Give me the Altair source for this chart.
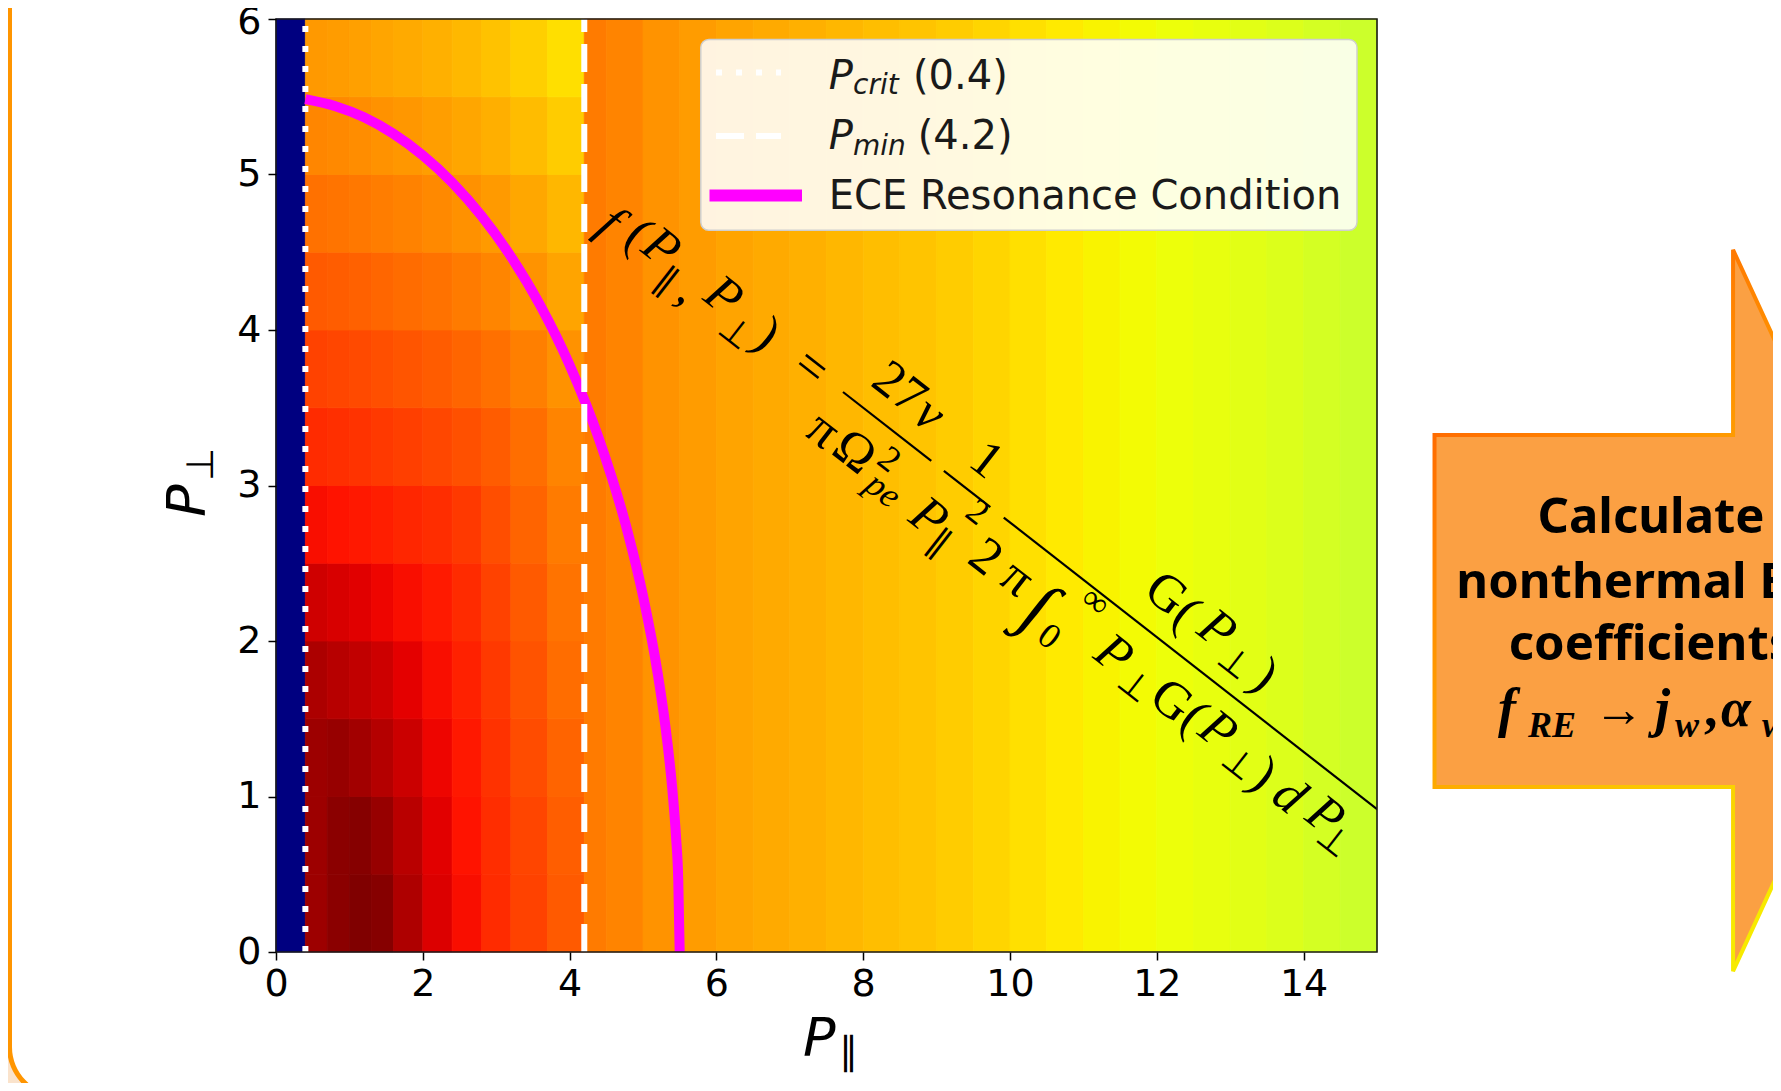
import altair as alt
import numpy as np
import pandas as pd

# ---------------- data ----------------
P_CRIT = 0.4
P_MIN = 4.2
X_TICKS = [0, 2, 4, 6, 8, 10, 12, 14]
Y_TICKS = [0, 1, 2, 3, 4, 5, 6]

# value below P_crit (masked, colormap minimum)
F_BELOW_CRIT = 0.0

# region P_crit < P_par < P_min : cells (columns x rows)
X_EDGES_LEFT = [0.4, 0.7, 1.0, 1.3, 1.6, 2.0, 2.4, 2.8, 3.2, 3.7, 4.2]
Y_EDGES = [0.0, 0.5, 1.0, 1.5, 2.0, 2.5, 3.0, 3.5, 4.0, 4.5, 5.0, 5.5, 6.0]
F_LEFT = [
    [0.975, 0.990, 1.000, 0.995, 0.960, 0.920, 0.895, 0.865, 0.840, 0.815],
    [0.975, 0.990, 0.995, 0.980, 0.950, 0.915, 0.890, 0.862, 0.837, 0.810],
    [0.975, 0.980, 0.970, 0.955, 0.935, 0.905, 0.885, 0.857, 0.830, 0.804],
    [0.962, 0.952, 0.943, 0.933, 0.913, 0.895, 0.875, 0.850, 0.822, 0.795],
    [0.932, 0.924, 0.916, 0.905, 0.895, 0.882, 0.864, 0.840, 0.814, 0.788],
    [0.895, 0.890, 0.885, 0.878, 0.870, 0.862, 0.850, 0.828, 0.804, 0.780],
    [0.865, 0.860, 0.856, 0.850, 0.843, 0.835, 0.826, 0.812, 0.793, 0.770],
    [0.840, 0.836, 0.832, 0.827, 0.820, 0.812, 0.803, 0.791, 0.776, 0.756],
    [0.815, 0.811, 0.807, 0.802, 0.796, 0.789, 0.780, 0.769, 0.755, 0.737],
    [0.790, 0.787, 0.783, 0.778, 0.772, 0.765, 0.757, 0.747, 0.733, 0.716],
    [0.768, 0.765, 0.761, 0.756, 0.750, 0.743, 0.735, 0.725, 0.711, 0.694],
    [0.748, 0.745, 0.741, 0.736, 0.730, 0.723, 0.715, 0.705, 0.691, 0.674],
]

# region P_par > P_min : varies with P_par only
X_EDGES_RIGHT = [4.2, 4.5, 5.0, 5.5, 6.0, 6.5, 7.0, 7.5, 8.0, 8.5, 9.0, 9.5,
                 10.0, 10.5, 11.0, 11.5, 12.0, 12.5, 13.0, 13.5, 14.0, 14.5, 15.0]
F_RIGHT = [0.780, 0.770, 0.755, 0.745, 0.737, 0.730, 0.723, 0.716, 0.709, 0.702,
           0.694, 0.684, 0.673, 0.662, 0.653, 0.645, 0.638, 0.632, 0.625, 0.617,
           0.608, 0.598]

# ECE resonance condition curve
RES_PPAR = [0.4, 0.8, 1.2, 1.6, 2.0, 2.4, 2.8, 3.2, 3.6, 4.0, 4.4, 4.8, 5.0,
            5.2, 5.3, 5.4, 5.45, 5.48, 5.5]
RES_PPERP = [5.485, 5.441, 5.368, 5.262, 5.123, 4.949, 4.734, 4.473, 4.158,
             3.775, 3.300, 2.685, 2.291, 1.792, 1.470, 1.044, 0.740, 0.469, 0.0]

LEGEND_CRIT = "(0.4)"
LEGEND_MIN = "(4.2)"
LEGEND_ECE = "ECE Resonance Condition"
ARROW_LINES = ["Calculate", "nonthermal ECE", "coefficients"]

# ---------------- layout / style ----------------
W, H = 1101, 933
XPU = W / 15.0
YPU = H / 6.0
XS = alt.Scale(domain=[0, 15], nice=False, zero=False)
YS = alt.Scale(domain=[0, 6], nice=False, zero=False)
XAX = alt.Axis(values=X_TICKS, format="d", title=None, labelFlush=False,
               labelOverlap=False, labelPadding=5, zindex=2)
YAX = alt.Axis(values=Y_TICKS, format="d", title=None, labelFlush=False,
               labelOverlap=False, labelPadding=7, zindex=2,
               labelOffset={"condition": {"test": "datum.value == 6", "value": 3},
                            "value": 0})


def jet_hex(v):
    r = np.interp(v, [0, 0.35, 0.66, 0.89, 1], [0, 0, 1, 1, 0.5])
    g = np.interp(v, [0, 0.125, 0.375, 0.64, 0.91, 1], [0, 0, 1, 1, 0, 0])
    b = np.interp(v, [0, 0.11, 0.34, 0.65, 1], [0.5, 1, 1, 0, 0])
    return "#%02x%02x%02x" % (int(round(r * 255)), int(round(g * 255)), int(round(b * 255)))


JET_DOMAIN = [float(v) for v in np.linspace(0, 1, 101)]
JET_RANGE = [jet_hex(v) for v in JET_DOMAIN]
CS = alt.Scale(domain=JET_DOMAIN, range=JET_RANGE, interpolate="rgb")


def one():
    return pd.DataFrame({"k": [0]})


def ptext(txt, x, y, **kw):
    return alt.Chart(one()).mark_text(text=txt, **kw).encode(
        x=alt.value(x), y=alt.value(y))


def prect(x, x2, y, y2, **kw):
    return alt.Chart(one()).mark_rect(**kw).encode(
        x=alt.value(x), x2=alt.value(x2), y=alt.value(y), y2=alt.value(y2))


def prule(x, x2, y, y2, **kw):
    return alt.Chart(one()).mark_rule(**kw).encode(
        x=alt.value(x), x2=alt.value(x2), y=alt.value(y), y2=alt.value(y2))


def xq(field):
    return alt.X(field, type="quantitative", scale=XS, axis=XAX)


def yq(field):
    return alt.Y(field, type="quantitative", scale=YS, axis=YAX)


layers = []

# slide background: orange rounded border on the left, peach outside the corner
BORDER = "#ff9500"
CX, CY, R = -216.5, 1028, 50
layers.append(prect(-270, CX - 22, CY, 1080, fill="#fae3cc"))
layers.append(alt.Chart(one()).mark_arc(theta=np.pi, theta2=1.5 * np.pi, radius=R,
                                        fill="white").encode(
    x=alt.value(CX), y=alt.value(CY)))
layers.append(alt.Chart(one()).mark_arc(theta=np.pi, theta2=1.5 * np.pi, radius=R + 2.5,
                                        radius2=R - 2.5, fill=BORDER).encode(
    x=alt.value(CX), y=alt.value(CY)))
layers.append(prule(CX - R, CX - R, -30, CY, color=BORDER, strokeWidth=5))

# ---------------- heatmap ----------------
cells = [dict(x0=0.0, x1=P_CRIT, y0=0.0, y1=6.0, v=F_BELOW_CRIT)]
for j in range(len(Y_EDGES) - 1):
    for i in range(len(X_EDGES_LEFT) - 1):
        cells.append(dict(x0=X_EDGES_LEFT[i], x1=X_EDGES_LEFT[i + 1],
                          y0=Y_EDGES[j], y1=Y_EDGES[j + 1], v=F_LEFT[j][i]))
for i in range(len(X_EDGES_RIGHT) - 1):
    cells.append(dict(x0=X_EDGES_RIGHT[i], x1=X_EDGES_RIGHT[i + 1],
                      y0=0.0, y1=6.0, v=F_RIGHT[i]))
cells_df = pd.DataFrame(cells)

heat = alt.Chart(cells_df).mark_rect(strokeWidth=0.8).encode(
    x=xq("x0"), x2="x1:Q", y=yq("y0"), y2="y1:Q",
    color=alt.Color("v:Q", scale=CS, legend=None),
    stroke=alt.Stroke("v:Q", scale=CS, legend=None),
)
layers.append(heat)

# resonance curve
res_df = pd.DataFrame({"p": RES_PPAR, "q": RES_PPERP})
layers.append(alt.Chart(res_df).mark_line(color="#ff00ff", strokeWidth=10, clip=True,
                                          strokeCap="butt", interpolate="monotone").encode(
    x=xq("p"), y=yq("q")))

# P_crit and P_min lines
for pval, dash in [(P_CRIT, [6, 14]), (P_MIN, [28, 12])]:
    df = pd.DataFrame({"p": [pval], "y0": [0.0], "y1": [6.0]})
    layers.append(alt.Chart(df).mark_rule(color="white", strokeWidth=6,
                                          strokeDash=dash, strokeCap="butt").encode(
        x=xq("p"), y=yq("y0"), y2="y1:Q"))

# ---------------- rotated formula ----------------
ANG = 38.0
OX = (843 - 276) / XPU
OY = (952 - 392) / YPU
SERIF = "Liberation Serif"
FORMULA = [
    ("f", -288, -10, 52, True), ("(", -258, -2, 52, False), ("P", -232, 2, 52, True),
    ("∥", -208, -22, 36, False), (",", -184, -14, 52, False), ("P", -153, 2, 52, True),
    ("⊥", -121, -20, 36, False), (")", -95, -2, 52, False), ("=", -40, 0, 52, False),
    ("27", 42, 38, 52, False), ("ν", 82, 36, 52, True),
    ("π", 8, -42, 52, False), ("Ω", 46, -40, 52, False), ("2", 78, -25, 36, False),
    ("pe", 92, -53, 36, True),
    ("1", 155, 35, 52, False), ("P", 145, -46, 52, True), ("∥", 168, -60, 36, False),
    ("2", 180, -12, 36, False),
    ("G", 379, 40, 52, False), ("(", 407, 37, 52, False), ("P", 441, 43, 52, True),
    ("⊥", 475, 27, 36, False), (")", 507, 36, 52, False),
    ("2", 214, -42, 52, False), ("π", 252, -39, 52, False), ("∫", 287, -50, 72, False),
    ("0", 313, -66, 36, False), ("∞", 328, -10, 36, False),
    ("P", 375, -40, 52, True), ("⊥", 410, -52, 36, False),
    ("G", 449, -41, 52, False), ("(", 477, -40, 52, False), ("P", 504, -36, 52, True),
    ("⊥", 540, -50, 36, False), (")", 567, -43, 52, False),
    ("d", 600, -43, 52, True), ("P", 641, -37, 52, True), ("⊥", 663, -52, 36, False),
]
anchor_df = pd.DataFrame({"ox": [OX], "oy": [OY]})
for txt, s, t, sz, it in FORMULA:
    layers.append(alt.Chart(anchor_df).mark_text(
        text=txt, angle=ANG, dx=s, dy=-t, fontSize=sz, font=SERIF,
        fontStyle="italic" if it else "normal", align="center", baseline="middle",
        color="black").encode(x=xq("ox"), y=yq("oy")))

ca, sa = np.cos(np.radians(ANG)), np.sin(np.radians(ANG))
bars = []
for a, b in [(0, 112), (128, 187), (204, 760)]:
    bars.append(dict(bx0=OX + a * ca / XPU, by0=OY - a * sa / YPU,
                     bx1=OX + b * ca / XPU, by1=OY - b * sa / YPU))
layers.append(alt.Chart(pd.DataFrame(bars)).mark_rule(color="black", strokeWidth=2.2,
                                                      clip=True).encode(
    x=xq("bx0"), y=yq("by0"), x2="bx1:Q", y2="by1:Q"))

# ---------------- legend ----------------
SANS = "DejaVu Sans"
layers.append(prect(424.8, 1081, 20.5, 211.3, fill="white", fillOpacity=0.88,
                    stroke="#cfcfcf", strokeWidth=1.5, cornerRadius=8))
layers.append(prule(440, 505, 53.5, 53.5, color="white", strokeWidth=6,
                    strokeDash=[6, 14], strokeCap="butt"))
layers.append(prule(440, 505, 117, 117, color="white", strokeWidth=6,
                    strokeDash=[28, 12], strokeCap="butt"))
layers.append(prule(433.5, 526, 176.5, 176.5, color="#ff00ff", strokeWidth=12,
                    strokeCap="butt"))
leg_kw = dict(font=SANS, align="left", baseline="alphabetic", color="#1a1a1a")
layers.append(ptext("P", 552.8, 69.5, fontSize=40, fontStyle="italic", **leg_kw))
layers.append(ptext("crit", 577, 75, fontSize=28, fontStyle="italic", **leg_kw))
layers.append(ptext(LEGEND_CRIT, 637, 69.5, fontSize=40, **leg_kw))
layers.append(ptext("P", 552.8, 130, fontSize=40, fontStyle="italic", **leg_kw))
layers.append(ptext("min", 577, 135.5, fontSize=28, fontStyle="italic", **leg_kw))
layers.append(ptext(LEGEND_MIN, 641.7, 130, fontSize=40, **leg_kw))
layers.append(ptext(LEGEND_ECE, 552.8, 189.5, fontSize=40, **leg_kw))

# ---------------- axis titles ----------------
layers.append(ptext("P", 527, 1037, fontSize=54, fontStyle="italic", font=SANS,
                    align="left", baseline="alphabetic", color="black"))
layers.append(ptext("∥", 563, 1045, fontSize=38, font=SANS,
                    align="left", baseline="alphabetic", color="black"))
layers.append(ptext("P", -71, 498, fontSize=54, fontStyle="italic", font=SANS, angle=270,
                    align="left", baseline="alphabetic", color="black"))
layers.append(ptext("⊥", -63, 462, fontSize=38, font=SANS, angle=270,
                    align="left", baseline="alphabetic", color="black"))

# frame
layers.append(prect(0, W, 0, H, fillOpacity=0, stroke="#1a1a1a", strokeWidth=1.6))

# ---------------- block arrow ----------------
ARROW_PATH = ("M -0.644 -0.486 L 0.183 -0.486 L 0.183 -0.999 L 0.643 0 "
              "L 0.183 0.999 L 0.183 0.489 L -0.644 0.489 Z")
arrow_grad = alt.Gradient(
    gradient="linear",
    stops=[alt.GradientStop(color="#ff4a00", offset=0),
           alt.GradientStop(color="#ff9800", offset=0.45),
           alt.GradientStop(color="#f7ea00", offset=1)],
    x1=0, y1=0, x2=0.55, y2=1)
layers.append(alt.Chart(one()).mark_point(
    shape=ARROW_PATH, size=722 * 722, filled=True, fill="#fba043", opacity=1,
    fillOpacity=1, stroke=arrow_grad, strokeWidth=4, strokeOpacity=1).encode(
    x=alt.value(1667 - 276), y=alt.value(610.5 - 19)))

arr_kw = dict(font="Noto Sans", fontWeight="bold", fontSize=49, align="center",
              baseline="alphabetic", color="black")
for line, yb in zip(ARROW_LINES, [514, 579, 641]):
    layers.append(ptext(line, 1375, yb, **arr_kw))

math_kw = dict(font=SERIF, align="left", baseline="alphabetic", color="black")
layers.append(ptext("f", 1222, 707, fontSize=54, fontStyle="italic", fontWeight="bold", **math_kw))
layers.append(ptext("RE", 1252, 718, fontSize=36, fontStyle="italic", fontWeight="bold", **math_kw))
layers.append(ptext("→", 1318, 707, fontSize=50, **math_kw))
layers.append(ptext("j", 1379, 707, fontSize=54, fontStyle="italic", fontWeight="bold", **math_kw))
layers.append(ptext("w", 1399, 718, fontSize=36, fontStyle="italic", fontWeight="bold", **math_kw))
layers.append(ptext(",", 1428, 707, fontSize=54, fontWeight="bold", **math_kw))
layers.append(ptext("α", 1445, 707, fontSize=54, fontStyle="italic", fontWeight="bold", **math_kw))
layers.append(ptext("w", 1486, 718, fontSize=36, fontStyle="italic", fontWeight="bold", **math_kw))

chart = alt.layer(*layers).properties(
    width=W, height=H,
    padding={"left": 268, "top": 11, "right": 396, "bottom": 131},
    autosize=alt.AutoSizeParams(type="none"),
    background="white",
).configure_view(stroke=None).configure_axis(
    domain=False, grid=False, ticks=True, tickColor="black", tickWidth=1.5,
    tickSize=8, labelFont="DejaVu Sans", labelFontSize=38, labelColor="black",
)

chart.save("out.html", embed_options={"renderer": "svg", "actions": False})
